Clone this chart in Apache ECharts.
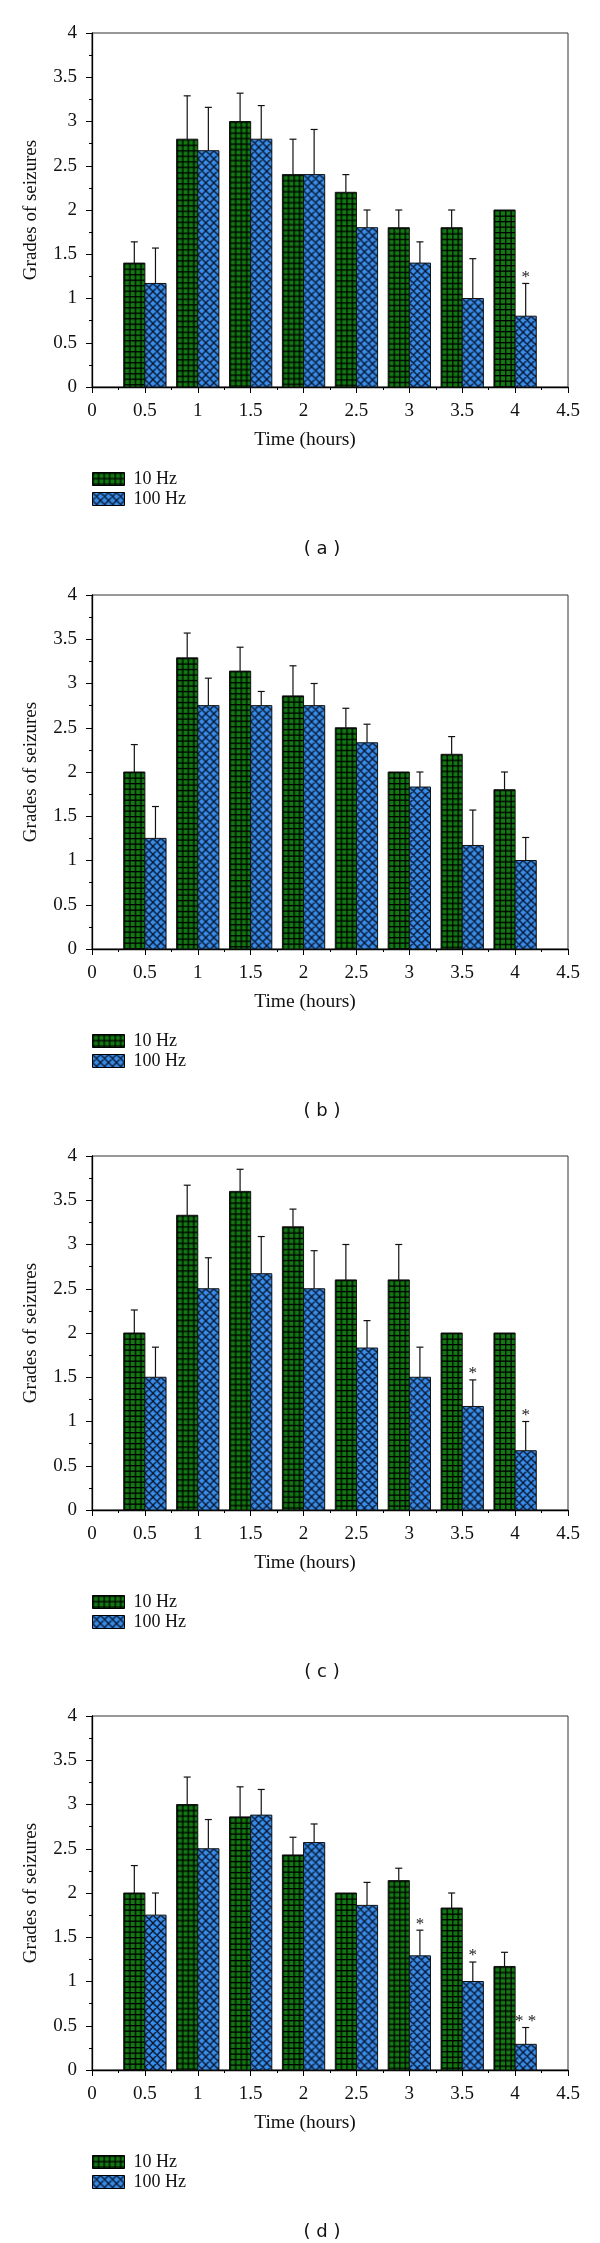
<!DOCTYPE html>
<html>
<head>
<meta charset="utf-8">
<script src="https://cdn.jsdelivr.net/npm/echarts@6/dist/echarts.min.js"></script>
<style>
  html, body { margin: 0; padding: 0; background: #fff; }
  #seizureChart { width: 600px; height: 2243px; }
</style>
</head>
<body>
<div id="seizureChart"></div>
<script>
  // time points (hours)
  var times = [0.5, 1, 1.5, 2, 2.5, 3, 3.5, 4];
  var seriesNames = ['10 Hz', '100 Hz'];
  var panelLabels = ['( a )', '( b )', '( c )', '( d )'];

  // panel (a)
  var a10 = [1.4, 2.8, 3.0, 2.4, 2.2, 1.8, 1.8, 2.0];
  var a10Err = [0.24, 0.49, 0.32, 0.40, 0.20, 0.20, 0.20, 0];
  var a100 = [1.17, 2.67, 2.8, 2.4, 1.8, 1.4, 1.0, 0.8];
  var a100Err = [0.40, 0.49, 0.38, 0.51, 0.20, 0.24, 0.45, 0.37];
  var a100Stars = ['', '', '', '', '', '', '', '*'];

  // panel (b)
  var b10 = [2.0, 3.29, 3.14, 2.86, 2.5, 2.0, 2.2, 1.8];
  var b10Err = [0.31, 0.28, 0.27, 0.34, 0.22, 0, 0.2, 0.2];
  var b100 = [1.25, 2.75, 2.75, 2.75, 2.33, 1.83, 1.17, 1.0];
  var b100Err = [0.36, 0.31, 0.16, 0.25, 0.21, 0.17, 0.40, 0.26];
  var b100Stars = ['', '', '', '', '', '', '', ''];

  // panel (c)
  var c10 = [2.0, 3.33, 3.6, 3.2, 2.6, 2.6, 2.0, 2.0];
  var c10Err = [0.26, 0.34, 0.25, 0.2, 0.4, 0.4, 0, 0];
  var c100 = [1.5, 2.5, 2.67, 2.5, 1.83, 1.5, 1.17, 0.67];
  var c100Err = [0.34, 0.35, 0.42, 0.43, 0.31, 0.34, 0.30, 0.33];
  var c100Stars = ['', '', '', '', '', '', '*', '*'];

  // panel (d)
  var d10 = [2.0, 3.0, 2.86, 2.43, 2.0, 2.14, 1.83, 1.17];
  var d10Err = [0.31, 0.31, 0.34, 0.2, 0, 0.14, 0.17, 0.16];
  var d100 = [1.75, 2.5, 2.88, 2.57, 1.86, 1.29, 1.0, 0.29];
  var d100Err = [0.25, 0.33, 0.29, 0.21, 0.26, 0.29, 0.22, 0.19];
  var d100Stars = ['', '', '', '', '', '*', '*', '* *'];

  var panels = [
    { m10: a10, e10: a10Err, m100: a100, e100: a100Err, stars: a100Stars },
    { m10: b10, e10: b10Err, m100: b100, e100: b100Err, stars: b100Stars },
    { m10: c10, e10: c10Err, m100: c100, e100: c100Err, stars: c100Stars },
    { m10: d10, e10: d10Err, m100: d100, e100: d100Err, stars: d100Stars }
  ];

  var panelTops = [33, 595, 1156, 1716];
  var plotHeight = 354;
  var barSpan = 0.2;
  var serif = '"Liberation Serif", "Times New Roman", serif';

  // green square grid fill
  function gridPattern() {
    var c = document.createElement('canvas');
    c.width = 11; c.height = 11;
    var g = c.getContext('2d');
    g.fillStyle = '#127812';
    g.fillRect(0, 0, 11, 11);
    g.fillStyle = '#000';
    g.fillRect(0, 0, 11, 1.3);
    g.fillRect(0, 5.5, 11, 1.3);
    g.fillRect(0, 0, 1.3, 11);
    g.fillRect(5.5, 0, 1.3, 11);
    return c;
  }

  // blue crosshatch fill
  function crossPattern() {
    var n = 8;
    var c = document.createElement('canvas');
    c.width = n; c.height = n;
    var g = c.getContext('2d');
    g.fillStyle = '#3a8de8';
    g.fillRect(0, 0, n, n);
    g.strokeStyle = '#06122a';
    g.lineWidth = 1.3;
    g.beginPath();
    for (var k = -1; k <= 1; k++) {
      g.moveTo(k * n - 1, -1); g.lineTo(k * n + n + 1, n + 1);
      g.moveTo(k * n - 1, n + 1); g.lineTo(k * n + n + 1, -1);
    }
    g.stroke();
    return c;
  }

  var greenFill = { image: gridPattern(), repeat: 'repeat' };
  var blueFill = { image: crossPattern(), repeat: 'repeat' };

  function makeRender(offset, fill, stars) {
    return function (params, api) {
      var i = params.dataIndex;
      var t = api.value(0), v = api.value(1), e = api.value(2);
      var tl = api.coord([t + offset, v]);
      var br = api.coord([t + offset + barSpan, 0]);
      var cx = (tl[0] + br[0]) / 2;
      var kids = [{
        type: 'rect',
        x: tl[0], y: tl[1],
        shape: { x: 0, y: 0, width: br[0] - tl[0], height: br[1] - tl[1] },
        style: { fill: fill, stroke: '#111', lineWidth: 1 }
      }];
      var topY = tl[1];
      if (e > 0) {
        topY = api.coord([t, v + e])[1];
        kids.push({ type: 'line', shape: { x1: cx, y1: tl[1], x2: cx, y2: topY }, style: { stroke: '#111', lineWidth: 1.2 } });
        kids.push({ type: 'line', shape: { x1: cx - 3.5, y1: topY, x2: cx + 3.5, y2: topY }, style: { stroke: '#111', lineWidth: 1.2 } });
      }
      if (stars && stars[i]) {
        kids.push({
          type: 'text', x: cx, y: topY - 6,
          style: { text: stars[i], font: '17px "Liberation Serif"', fill: '#222', align: 'center', verticalAlign: 'middle' }
        });
      }
      return { type: 'group', children: kids };
    };
  }

  var grids = [], xAxes = [], yAxes = [], series = [], legends = [], graphics = [];

  panels.forEach(function (p, idx) {
    var top = panelTops[idx];
    var axisY = top + plotHeight;
    grids.push({
      left: 92, width: 476, top: top, height: plotHeight,
      containLabel: false, outerBoundsMode: 'none',
      show: true, borderColor: '#333', borderWidth: 1, backgroundColor: 'transparent'
    });
    xAxes.push({
      gridIndex: idx, type: 'value', min: 0, max: 4.5, interval: 0.5,
      name: 'Time (hours)', nameLocation: 'middle', nameGap: 43,
      nameTextStyle: { fontFamily: serif, fontSize: 19.5, color: '#111', padding: [0, 50, 0, 0] },
      axisLine: { show: true, onZero: false, lineStyle: { color: '#000', width: 1.3 } },
      axisTick: { show: true, inside: false, length: 6, lineStyle: { color: '#000' } },
      minorTick: { show: true, splitNumber: 2, length: 3, lineStyle: { color: '#000' } },
      splitLine: { show: false },
      axisLabel: { margin: 15, fontFamily: serif, fontSize: 19, color: '#111' }
    });
    yAxes.push({
      gridIndex: idx, type: 'value', min: 0, max: 4, interval: 0.5,
      name: 'Grades of seizures', nameLocation: 'middle', nameGap: 51, nameRotate: 90,
      nameTextStyle: { fontFamily: serif, fontSize: 19, color: '#111' },
      axisLine: { show: true, lineStyle: { color: '#000', width: 1.3 } },
      axisTick: { show: true, inside: false, length: 6, lineStyle: { color: '#000' } },
      minorTick: { show: true, splitNumber: 2, length: 3, lineStyle: { color: '#000' } },
      splitLine: { show: false },
      axisLabel: { margin: 15, fontFamily: serif, fontSize: 19, color: '#111' }
    });
    series.push({
      name: seriesNames[0], type: 'custom', xAxisIndex: idx, yAxisIndex: idx,
      itemStyle: { color: greenFill, borderColor: '#000', borderWidth: 1 },
      renderItem: makeRender(-barSpan, greenFill, null),
      data: times.map(function (t, i) { return [t, p.m10[i], p.e10[i]]; })
    });
    series.push({
      name: seriesNames[1], type: 'custom', xAxisIndex: idx, yAxisIndex: idx,
      itemStyle: { color: blueFill, borderColor: '#000', borderWidth: 1 },
      renderItem: makeRender(0, blueFill, p.stars),
      data: times.map(function (t, i) { return [t, p.m100[i], p.e100[i]]; })
    });
    legends.push({
      data: seriesNames, orient: 'vertical', left: 92, top: axisY + 83,
      icon: 'rect', itemWidth: 32, itemHeight: 13, itemGap: 2, padding: 0,
      selectedMode: false,
      itemStyle: { borderColor: '#000', borderWidth: 1 },
      textStyle: { fontFamily: serif, fontSize: 18, color: '#111', padding: [0, 0, 0, 4] }
    });
    graphics.push({
      type: 'text', x: 322, y: axisY + 162,
      style: { text: panelLabels[idx], font: '18px "DejaVu Sans"', fill: '#111', align: 'center', verticalAlign: 'middle' }
    });
  });

  var myChart = echarts.init(document.getElementById('seizureChart'));
  myChart.setOption({
    animation: false,
    backgroundColor: '#fff',
    grid: grids,
    xAxis: xAxes,
    yAxis: yAxes,
    legend: legends,
    graphic: graphics,
    series: series
  });
</script>
</body>
</html>
